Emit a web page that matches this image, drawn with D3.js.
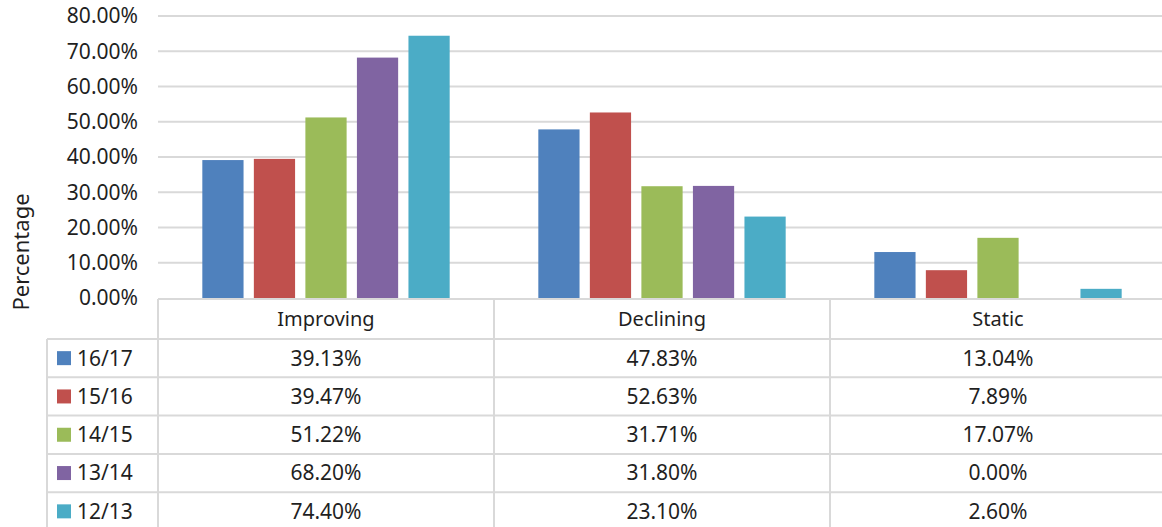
<!DOCTYPE html>
<html>
<head>
<meta charset="utf-8">
<script src="https://cdn.jsdelivr.net/npm/d3@7"></script>
<style>
  body { margin: 0; background: #fff; }
  svg text { font-family: 'Noto Sans', 'Open Sans', sans-serif; fill: #1f1f1f; }
  .grid line { stroke: #d9d9d9; stroke-width: 2; }
  .table-line { stroke: #d9d9d9; stroke-width: 2; }
</style>
</head>
<body>
<div id="chart"></div>
<script>
// chart data
const categories = ['Improving', 'Declining', 'Static'];
const seriesNames = ['16/17', '15/16', '14/15', '13/14', '12/13'];
const seriesColors = ['#4f81bd', '#c0504d', '#9bbb59', '#8064a2', '#4bacc6'];
const values1617 = [39.13, 47.83, 13.04];
const values1516 = [39.47, 52.63, 7.89];
const values1415 = [51.22, 31.71, 17.07];
const values1314 = [68.20, 31.80, 0.00];
const values1213 = [74.40, 23.10, 2.60];
const yTicks = [0, 10, 20, 30, 40, 50, 60, 70, 80];

class TableBarChart {

  constructor(_config, _data) {
    this.config = {
      parentElement: _config.parentElement,
      containerWidth: _config.containerWidth || 1162,
      containerHeight: _config.containerHeight || 527,
      plotLeft: 158,
      plotRight: 1166,
      plotTop: 16,
      plotBottom: 298,
      rowHeight: 38.3,
      headerHeight: 40,
      legendLeft: 47
    };
    this.data = _data;
    this.initVis();
  }

  initVis() {
    let vis = this;
    const c = vis.config;

    vis.svg = d3.select(c.parentElement).append('svg')
        .attr('width', c.containerWidth)
        .attr('height', c.containerHeight);

    // outer scale for categories, inner scale for series
    vis.x0 = d3.scaleBand()
        .domain(categories)
        .range([c.plotLeft, c.plotRight]);

    vis.x1 = d3.scaleBand()
        .domain(seriesNames)
        .range([0, vis.x0.bandwidth()])
        .paddingInner(0.2)
        .paddingOuter(0.86);

    vis.y = d3.scaleLinear()
        .domain([0, 80])
        .range([c.plotBottom, c.plotTop]);

    vis.renderVis();
  }

  renderVis() {
    let vis = this;
    const c = vis.config;
    const fmt = d => d3.format('.2f')(d) + '%';

    // gridlines
    vis.svg.append('g')
        .attr('class', 'grid')
        .selectAll('line')
        .data(yTicks.filter(d => d > 0))
        .join('line')
        .attr('x1', c.plotLeft)
        .attr('x2', c.plotRight)
        .attr('y1', d => vis.y(d))
        .attr('y2', d => vis.y(d));

    // y tick labels
    vis.svg.append('g')
        .selectAll('text')
        .data(yTicks)
        .join('text')
        .attr('x', 138)
        .attr('y', d => vis.y(d))
        .attr('dy', '0.35em')
        .attr('text-anchor', 'end')
        .style('font-size', '21px')
        .text(fmt);

    // axis title
    vis.svg.append('text')
        .attr('transform', 'translate(29,252) rotate(-90)')
        .attr('text-anchor', 'middle')
        .style('font-size', '22px')
        .text('Percentage');

    // bars
    vis.svg.append('g')
        .selectAll('g')
        .data(vis.data)
        .join('g')
        .attr('fill', d => d.color)
        .selectAll('rect')
        .data(d => d.values.map((v, i) => ({name: d.name, cat: categories[i], value: v})))
        .join('rect')
        .attr('x', d => vis.x0(d.cat) + vis.x1(d.name))
        .attr('width', vis.x1.bandwidth())
        .attr('y', d => vis.y(d.value))
        .attr('height', d => vis.y(0) - vis.y(d.value));

    // data table
    const tableTop = c.plotBottom + 1;
    const headerBottom = tableTop + c.headerHeight;
    const rowY = i => headerBottom + i * c.rowHeight;
    const table = vis.svg.append('g');

    // table top line (also the x axis)
    table.append('line').attr('class', 'table-line')
        .attr('x1', c.plotLeft).attr('x2', c.plotRight)
        .attr('y1', tableTop).attr('y2', tableTop);

    // row lines
    table.selectAll('.row-line')
        .data(d3.range(vis.data.length))
        .join('line')
        .attr('class', 'table-line row-line')
        .attr('x1', c.legendLeft).attr('x2', c.plotRight)
        .attr('y1', i => rowY(i)).attr('y2', i => rowY(i));

    // vertical lines
    const colEdges = categories.map(d => vis.x0(d)).concat([c.plotRight]);
    table.selectAll('.col-line')
        .data(colEdges)
        .join('line')
        .attr('class', 'table-line col-line')
        .attr('x1', d => d).attr('x2', d => d)
        .attr('y1', tableTop).attr('y2', c.containerHeight + 10);

    table.append('line').attr('class', 'table-line')
        .attr('x1', c.legendLeft).attr('x2', c.legendLeft)
        .attr('y1', headerBottom).attr('y2', c.containerHeight + 10);

    // header
    table.selectAll('.header')
        .data(categories)
        .join('text')
        .attr('class', 'header')
        .attr('x', d => vis.x0(d) + vis.x0.bandwidth() / 2)
        .attr('y', (tableTop + headerBottom) / 2)
        .attr('dy', '0.35em')
        .attr('text-anchor', 'middle')
        .style('font-size', '20px')
        .text(d => d);

    // rows
    const rows = table.selectAll('.row')
        .data(vis.data)
        .join('g')
        .attr('class', 'row')
        .attr('transform', (d, i) => `translate(0,${rowY(i) + c.rowHeight / 2})`);

    rows.append('rect')
        .attr('x', 57)
        .attr('y', -7)
        .attr('width', 14)
        .attr('height', 14)
        .attr('fill', d => d.color);

    rows.append('text')
        .attr('x', 77)
        .attr('dy', '0.35em')
        .style('font-size', '21px')
        .text(d => d.name);

    rows.selectAll('.cell')
        .data(d => d.values.map((v, i) => ({cat: categories[i], value: v})))
        .join('text')
        .attr('class', 'cell')
        .attr('x', d => vis.x0(d.cat) + vis.x0.bandwidth() / 2)
        .attr('dy', '0.35em')
        .attr('text-anchor', 'middle')
        .style('font-size', '21px')
        .text(d => fmt(d.value));
  }
}

const seriesValues = [values1617, values1516, values1415, values1314, values1213];
const chartData = seriesNames.map((name, i) => ({
  name: name,
  color: seriesColors[i],
  values: seriesValues[i]
}));

new TableBarChart({ parentElement: '#chart' }, chartData);
</script>
</body>
</html>
